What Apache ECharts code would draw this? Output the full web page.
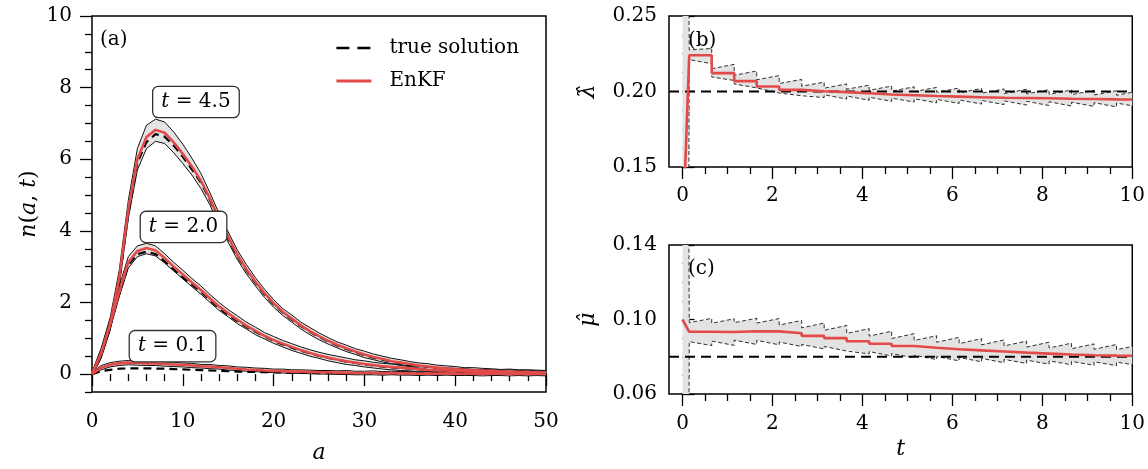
<!DOCTYPE html>
<html>
<head>
<meta charset="utf-8">
<script src="https://cdn.jsdelivr.net/npm/echarts@6/dist/echarts.min.js"></script>
<style>
html,body{margin:0;padding:0;background:#fff;}
#chart{width:1148px;height:469px;}
</style>
</head>
<body>
<div id="chart"></div>
<script>
// ---------------- DATA ----------------
// panel (a): age grid and profiles n(a,t)
const ages = [0,1,2,3,4,5,6,7,8,9,10,11,12,13,14,15,16,17,18,19,20,21,22,23,24,25,26,27,28,29,30,31,32,33,34,35,36,37,38,39,40,41,42,43,44,45,46,47,48,49,50];

const true45 = [0,0.55,1.35,2.6,4.5,5.9,6.48,6.7,6.63,6.38,6.07,5.72,5.35,4.85,4.28,3.78,3.3,2.9,2.55,2.23,1.95,1.72,1.52,1.34,1.18,1.04,0.91,0.8,0.7,0.61,0.53,0.46,0.4,0.35,0.3,0.26,0.23,0.2,0.17,0.15,0.13,0.11,0.1,0.09,0.08,0.07,0.06,0.05,0.05,0.04,0.04];
const enkf45 = [0,0.58,1.4,2.68,4.6,6.0,6.62,6.82,6.74,6.47,6.15,5.8,5.4,4.9,4.32,3.83,3.34,2.93,2.58,2.26,1.98,1.74,1.55,1.36,1.2,1.06,0.93,0.82,0.72,0.63,0.55,0.48,0.42,0.36,0.32,0.28,0.24,0.21,0.18,0.16,0.14,0.12,0.11,0.1,0.09,0.07,0.07,0.06,0.06,0.05,0.04];
const hi45 = [0.06,0.72,1.58,2.9,4.85,6.3,6.95,7.12,7.04,6.76,6.42,6.03,5.6,5.06,4.48,3.97,3.47,3.06,2.69,2.37,2.08,1.83,1.65,1.45,1.3,1.15,1.02,0.9,0.81,0.71,0.64,0.56,0.5,0.44,0.4,0.35,0.31,0.29,0.25,0.23,0.21,0.18,0.18,0.16,0.15,0.13,0.14,0.12,0.12,0.11,0.1];
const lo45 = [-0.05,0.44,1.22,2.46,4.35,5.7,6.3,6.5,6.44,6.18,5.88,5.56,5.18,4.72,4.15,3.68,3.2,2.8,2.46,2.14,1.87,1.64,1.45,1.26,1.1,0.96,0.84,0.73,0.63,0.55,0.46,0.4,0.34,0.29,0.24,0.21,0.17,0.13,0.12,0.09,0.07,0.06,0.04,0.03,0.03,0.01,0.01,0.0,0.0,-0.01,-0.02];

const true20 = [0,0.55,1.35,2.25,3.05,3.35,3.42,3.35,3.15,2.92,2.7,2.5,2.3,2.06,1.84,1.65,1.48,1.32,1.18,1.05,0.93,0.83,0.74,0.65,0.58,0.51,0.45,0.4,0.35,0.31,0.27,0.24,0.21,0.19,0.17,0.15,0.13,0.12,0.1,0.09,0.08,0.07,0.06,0.06,0.05,0.04,0.04,0.04,0.03,0.03,0.03];
const enkf20 = [0,0.57,1.38,2.3,3.12,3.44,3.52,3.45,3.24,3.0,2.78,2.56,2.35,2.11,1.89,1.7,1.52,1.35,1.21,1.07,0.95,0.85,0.76,0.67,0.59,0.52,0.46,0.41,0.36,0.32,0.28,0.25,0.22,0.2,0.18,0.16,0.14,0.12,0.11,0.1,0.09,0.08,0.07,0.06,0.06,0.05,0.05,0.04,0.04,0.04,0.03];
const hi20 = [0.05,0.68,1.5,2.45,3.28,3.58,3.65,3.58,3.36,3.12,2.9,2.67,2.46,2.22,2.0,1.8,1.63,1.45,1.31,1.16,1.05,0.94,0.85,0.76,0.68,0.61,0.55,0.5,0.45,0.4,0.37,0.33,0.3,0.28,0.26,0.23,0.22,0.2,0.18,0.17,0.16,0.15,0.13,0.13,0.12,0.11,0.12,0.1,0.11,0.09,0.1];
const lo20 = [-0.05,0.45,1.25,2.16,2.96,3.28,3.36,3.3,3.1,2.88,2.66,2.44,2.23,2.0,1.78,1.6,1.41,1.26,1.1,0.98,0.86,0.76,0.66,0.58,0.5,0.44,0.37,0.32,0.27,0.24,0.2,0.17,0.14,0.12,0.1,0.09,0.06,0.05,0.04,0.03,0.02,0.02,0.0,0.0,0.01,-0.01,-0.01,-0.02,-0.02,-0.01,-0.03];

const true01 = [0,0.08,0.12,0.15,0.16,0.16,0.16,0.155,0.15,0.14,0.13,0.12,0.11,0.1,0.09,0.08,0.07,0.065,0.06,0.055,0.05,0.045,0.04,0.038,0.035,0.032,0.03,0.028,0.026,0.024,0.022,0.02,0.019,0.018,0.017,0.016,0.015,0.014,0.013,0.012,0.011,0.01,0.01,0.009,0.009,0.008,0.008,0.007,0.007,0.006,0.006];
const enkf01 = [0,0.18,0.26,0.3,0.32,0.31,0.3,0.3,0.28,0.27,0.26,0.24,0.22,0.21,0.19,0.17,0.15,0.13,0.12,0.1,0.09,0.08,0.07,0.07,0.06,0.05,0.05,0.04,0.04,0.03,0.03,0.03,0.02,0.03,0.02,0.02,0.01,0.02,0.01,0.02,0.01,0.01,0.01,0.0,0.01,0.01,0.0,0.01,0.0,0.01,0.0];
const hi01 = [0.04,0.24,0.32,0.36,0.38,0.37,0.37,0.35,0.34,0.33,0.31,0.3,0.27,0.27,0.24,0.23,0.2,0.19,0.17,0.16,0.14,0.14,0.12,0.12,0.11,0.1,0.1,0.09,0.1,0.08,0.08,0.09,0.07,0.08,0.07,0.07,0.06,0.07,0.06,0.07,0.06,0.05,0.06,0.05,0.06,0.05,0.05,0.06,0.04,0.05,0.05];
const lo01 = [-0.04,0.12,0.2,0.24,0.26,0.25,0.24,0.24,0.22,0.21,0.2,0.18,0.17,0.15,0.14,0.11,0.1,0.08,0.07,0.05,0.04,0.03,0.02,0.02,0.01,0.0,0.0,-0.01,-0.01,-0.02,-0.02,-0.02,-0.03,-0.02,-0.03,-0.03,-0.04,-0.03,-0.04,-0.03,-0.04,-0.04,-0.04,-0.05,-0.04,-0.04,-0.05,-0.04,-0.05,-0.04,-0.05];

// annotation positions (a, n) and texts
const profileLabels = ['4.5', '2.0', '0.1'];
const labelCoords = [[11.45, 7.6], [10.08, 4.11], [8.87, 0.78]];

// panels (b),(c): assimilation times, ensemble mean and bounds per interval
const tAssim = [0.15,0.65,1.15,1.65,2.15,2.65,3.15,3.65,4.15,4.65,5.15,5.65,6.15,6.65,7.15,7.65,8.15,8.65,9.15,9.65];
const tFirst = 0, tLast = 10;
const lamTrue = 0.20, muTrue = 0.08;
const lamInit = 0.10, muInit = 0.10;
const initHi = 1.0, initLo = -1.0;

const lamMean = [0.2240,0.2122,0.2069,0.2033,0.2011,0.2002,0.1996,0.1988,0.1980,0.1975,0.1970,0.1966,0.1962,0.1959,0.1957,0.1955,0.1952,0.1950,0.1948,0.1947];
const lamHiS = [0.2275,0.2151,0.2107,0.2078,0.2053,0.2035,0.2022,0.2015,0.2008,0.2003,0.1999,0.1995,0.1992,0.1989,0.1986,0.1984,0.1981,0.1979,0.1977,0.1975];
const lamHiE = [0.2285,0.2180,0.2136,0.2105,0.2080,0.2062,0.2050,0.2042,0.2036,0.2031,0.2027,0.2023,0.2020,0.2017,0.2015,0.2012,0.2010,0.2008,0.2005,0.1995];
const lamLoS = [0.2211,0.2096,0.2050,0.2018,0.1998,0.1985,0.1978,0.1970,0.1962,0.1956,0.1952,0.1948,0.1944,0.1941,0.1938,0.1935,0.1932,0.1929,0.1926,0.1924];
const lamLoE = [0.2184,0.2073,0.2024,0.1990,0.1972,0.1960,0.1950,0.1942,0.1935,0.1930,0.1925,0.1921,0.1917,0.1913,0.1910,0.1907,0.1904,0.1901,0.1898,0.1905];

const muMean = [0.0934,0.0933,0.0937,0.0936,0.0926,0.0912,0.0900,0.0883,0.0870,0.0858,0.0848,0.0840,0.0834,0.0828,0.0822,0.0817,0.0812,0.0808,0.0806,0.0805];
const muHiS = [0.0983,0.0980,0.0983,0.0981,0.0970,0.0955,0.0942,0.0925,0.0911,0.0898,0.0887,0.0878,0.0871,0.0864,0.0858,0.0852,0.0847,0.0843,0.0840,0.0838];
const muHiE = [0.1006,0.1004,0.1007,0.1005,0.0995,0.0981,0.0968,0.0951,0.0937,0.0924,0.0913,0.0904,0.0897,0.0890,0.0884,0.0878,0.0873,0.0869,0.0866,0.0855];
const muLoS = [0.0881,0.0884,0.0889,0.0888,0.0879,0.0866,0.0855,0.0839,0.0828,0.0817,0.0808,0.0801,0.0796,0.0791,0.0786,0.0782,0.0778,0.0775,0.0773,0.0771];
const muLoE = [0.0860,0.0861,0.0866,0.0864,0.0855,0.0842,0.0831,0.0815,0.0804,0.0794,0.0785,0.0778,0.0773,0.0768,0.0764,0.0760,0.0757,0.0754,0.0752,0.0758];

// tick values
const aTicksY = [0,2,4,6,8,10];
const aMinorY = [-0.5,0.5,1,1.5,2.5,3,3.5,4.5,5,5.5,6.5,7,7.5,8.5,9,9.5];
const tTicks = [0,2,4,6,8,10];
const tMinor = [0.5,1,1.5,2.5,3,3.5,4.5,5,5.5,6.5,7,7.5,8.5,9,9.5];

// ---------------- STYLE ----------------
const FONT = 'DejaVu Serif';
const RED = '#e24a4a';
const BAND = '#e3e3e3';
const tickLine = {color:'#000', width:1.3};
const lbl = {fontFamily:FONT, fontSize:20, color:'#000'};

// axis indices
const XA = 0, YA = 0;       // panel (a)
const XB = 1, YB = 2;       // panel (b)
const XC = 3, YC = 3;       // panel (c)

// ---------------- HELPERS ----------------
const zip = (xs, ys) => xs.map((x, i) => [x, ys[i]]);
function stepPts(v0, vals) {
  const p = [[tFirst, v0]];
  tAssim.forEach((t, k) => { p.push([t, vals[k]]); p.push([k + 1 < tAssim.length ? tAssim[k + 1] : tLast, vals[k]]); });
  return p;
}
function sawPts(v0, S, E) {
  const p = [[tFirst, v0]];
  tAssim.forEach((t, k) => { p.push([t, S[k]]); p.push([k + 1 < tAssim.length ? tAssim[k + 1] : tLast, E[k]]); });
  return p;
}
function band(xi, yi, upper, lower) {
  const pts = upper.concat(lower.slice().reverse());
  return {type:'custom', xAxisIndex:xi, yAxisIndex:yi, clip:true, silent:true, z:1,
    data:[[0, 0]],
    renderItem: (params, api) => ({type:'polygon', shape:{points: pts.map(p => api.coord(p))},
      style:{fill:BAND, stroke:null}})};
}
function thin(xi, yi, pts, solid) {
  return {type:'line', xAxisIndex:xi, yAxisIndex:yi, data:pts, symbol:'none', silent:true, z:2,
    lineStyle: solid ? {color:'#111', width:1.0} : {color:'#1a1a1a', width:0.9, type:[4,2.5]}};
}
function trueLine(xi, yi, pts, dash) {
  return {type:'line', name:'true solution', xAxisIndex:xi, yAxisIndex:yi, data:pts, symbol:'none', silent:true, z:3,
    itemStyle:{color:'#000'}, lineStyle:{color:'#000', width:2.2, type:dash}};
}
function redLine(xi, yi, pts) {
  return {type:'line', name:'EnKF', xAxisIndex:xi, yAxisIndex:yi, data:pts, symbol:'none', silent:true, z:4,
    itemStyle:{color:RED}, lineStyle:{color:RED, width:2.6}};
}

const series = [];
// panel (a)
const profiles = [
  {tr:true45, en:enkf45, hi:hi45, lo:lo45},
  {tr:true20, en:enkf20, hi:hi20, lo:lo20},
  {tr:true01, en:enkf01, hi:hi01, lo:lo01}
];
profiles.forEach(pr => {
  series.push(band(XA, YA, zip(ages, pr.hi), zip(ages, pr.lo)));
  series.push(thin(XA, YA, zip(ages, pr.hi), true));
  series.push(thin(XA, YA, zip(ages, pr.lo), true));
});
profiles.forEach(pr => {
  series.push(trueLine(XA, YA, zip(ages, pr.tr), [8,5]));
});
profiles.forEach((pr, i) => {
  const s = redLine(XA, YA, zip(ages, pr.en));
  s.markPoint = {
    symbol:'rect', symbolSize:0, silent:true,
    data:[{coord:labelCoords[i], value:profileLabels[i]}],
    label:{show:true, position:'inside', formatter: p => '{i|t} = ' + p.value,
      fontFamily:FONT, fontSize:20, color:'#000', lineHeight:22,
      backgroundColor:'#fff', borderColor:'#333', borderWidth:1.3, borderRadius:5, padding:[4,8,4,8],
      rich:{i:{fontFamily:FONT, fontSize:20, fontStyle:'italic', color:'#000', lineHeight:22}}}
  };
  series.push(s);
});

// panel (b)
const lamHi = sawPts(initHi, lamHiS, lamHiE), lamLo = sawPts(initLo, lamLoS, lamLoE);
series.push(band(XB, YB, lamHi, lamLo));
series.push(thin(XB, YB, lamHi));
series.push(thin(XB, YB, lamLo));
series.push(trueLine(XB, YB, [[-0.3, lamTrue], [tLast, lamTrue]], [10,6]));
series.push(redLine(XB, YB, stepPts(lamInit, lamMean)));

// panel (c)
const muHi = sawPts(initHi, muHiS, muHiE), muLo = sawPts(initLo, muLoS, muLoE);
series.push(band(XC, YC, muHi, muLo));
series.push(thin(XC, YC, muHi));
series.push(thin(XC, YC, muLo));
series.push(trueLine(XC, YC, [[-0.3, muTrue], [tLast, muTrue]], [10,6]));
series.push(redLine(XC, YC, stepPts(muInit, muMean)));

const gridStyle = {show:true, borderColor:'#000', borderWidth:1.5, backgroundColor:'transparent', containLabel:false};
const noLine = {show:false};

function minorAxis(grid, min, max, vals, pos) {
  return {type:'value', gridIndex:grid, min:min, max:max, position:pos,
    axisLine:noLine, splitLine:noLine, axisLabel:{show:false},
    axisTick:{show:true, customValues:vals, length:7, lineStyle:tickLine}};
}

const option = {
  animation:false,
  backgroundColor:'#fff',
  grid:[
    Object.assign({left:92, top:16, width:454, height:378}, gridStyle),
    Object.assign({left:669, top:16, width:464, height:151}, gridStyle),
    Object.assign({left:669, top:245, width:464, height:149}, gridStyle)
  ],
  xAxis:[
    {type:'value', gridIndex:0, min:0, max:50, interval:10, position:'bottom',
      axisLine:noLine, splitLine:noLine,
      axisTick:{length:12, lineStyle:tickLine},
      minorTick:{show:true, splitNumber:5, length:7, lineStyle:tickLine},
      axisLabel:Object.assign({margin:20}, lbl),
      name:'a', nameLocation:'middle', nameGap:50,
      nameTextStyle:{fontFamily:FONT, fontSize:22, fontStyle:'italic', color:'#000'}},
    {type:'value', gridIndex:1, min:-0.3, max:10, position:'bottom',
      axisLine:noLine, splitLine:noLine,
      axisTick:{customValues:tTicks, length:12, lineStyle:tickLine},
      axisLabel:Object.assign({margin:19, customValues:tTicks}, lbl)},
    minorAxis(1, -0.3, 10, tMinor, 'bottom'),
    {type:'value', gridIndex:2, min:-0.3, max:10, position:'bottom',
      axisLine:noLine, splitLine:noLine,
      axisTick:{customValues:tTicks, length:12, lineStyle:tickLine},
      axisLabel:Object.assign({margin:20, customValues:tTicks}, lbl),
      name:'t', nameLocation:'middle', nameGap:44,
      nameTextStyle:{fontFamily:FONT, fontSize:22, fontStyle:'italic', color:'#000'}},
    minorAxis(2, -0.3, 10, tMinor, 'bottom')
  ],
  yAxis:[
    {type:'value', gridIndex:0, min:-0.5, max:10, position:'left',
      axisLine:noLine, splitLine:noLine,
      axisTick:{customValues:aTicksY, length:12, lineStyle:tickLine},
      axisLabel:Object.assign({margin:20, customValues:aTicksY}, lbl),
      name:'{i|n}({i|a}, {i|t})', nameLocation:'middle', nameGap:52, nameRotate:90,
      nameTextStyle:{fontFamily:FONT, fontSize:22, color:'#000',
        rich:{i:{fontFamily:FONT, fontSize:22, fontStyle:'italic', color:'#000'}}}},
    minorAxis(0, -0.5, 10, aMinorY, 'left'),
    {type:'value', gridIndex:1, min:0.15, max:0.25, interval:0.05, position:'left',
      axisLine:noLine, splitLine:noLine,
      axisTick:{inside:true, length:12, lineStyle:tickLine},
      minorTick:{show:true, splitNumber:4, length:7, lineStyle:tickLine},
      axisLabel:Object.assign({margin:12, formatter: v => v.toFixed(2)}, lbl),
      name:'\u03bb\u0302', nameLocation:'middle', nameGap:70, nameRotate:90,
      nameTextStyle:{fontFamily:FONT, fontSize:22, fontStyle:'italic', color:'#000'}},
    {type:'value', gridIndex:2, min:0.06, max:0.14, interval:0.04, position:'left',
      axisLine:noLine, splitLine:noLine,
      axisTick:{inside:true, length:12, lineStyle:tickLine},
      minorTick:{show:true, splitNumber:4, length:7, lineStyle:tickLine},
      axisLabel:Object.assign({margin:12, formatter: v => v.toFixed(2)}, lbl),
      name:'\u03bc\u0302', nameLocation:'middle', nameGap:70, nameRotate:90,
      nameTextStyle:{fontFamily:FONT, fontSize:22, fontStyle:'italic', color:'#000'}}
  ],
  legend:{
    data:[
      {name:'true solution', lineStyle:{color:'#000', width:2.6, type:[13,8]}},
      {name:'EnKF', lineStyle:{color:RED, width:2.8}}
    ],
    orient:'vertical', left:330, top:32,
    itemWidth:35, itemHeight:14, itemGap:11, selectedMode:false,
    itemStyle:{opacity:0, color:'transparent', borderWidth:0},
    textStyle:{fontFamily:FONT, fontSize:20, color:'#000', lineHeight:22, padding:[0,0,0,13]}
  },
  graphic:[
    {type:'text', left:100, top:30, style:{text:'(a)', font:'20px "DejaVu Serif"', fill:'#000'}},
    {type:'text', left:688, top:31, style:{text:'(b)', font:'20px "DejaVu Serif"', fill:'#000'}},
    {type:'text', left:688, top:259, style:{text:'(c)', font:'20px "DejaVu Serif"', fill:'#000'}}
  ],
  series: series
};

const chart = echarts.init(document.getElementById('chart'), null, {renderer:'canvas'});
chart.setOption(option);
</script>
</body>
</html>
